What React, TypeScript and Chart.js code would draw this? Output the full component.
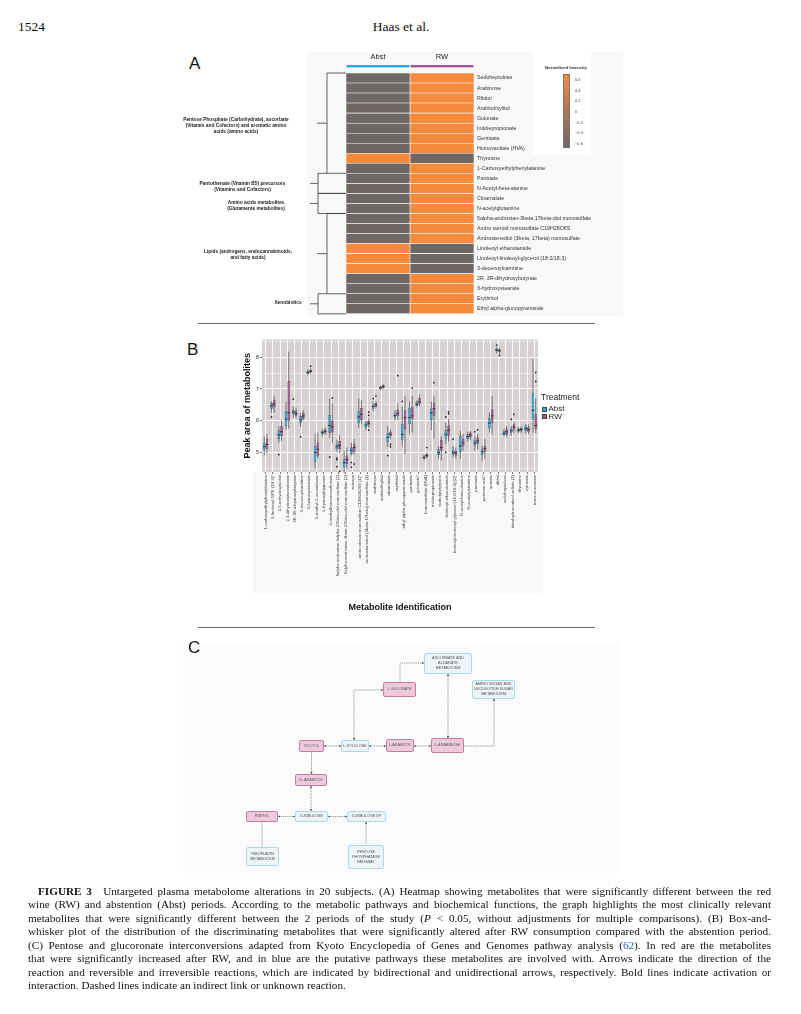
import React, { useEffect, useRef } from 'react';
import { Chart, registerables } from 'chart.js';

Chart.register(...registerables);

// ---------------- Panel A data ----------------
const heatmapColumns = ['Abst', 'RW'];
const heatmapMetabolites = [
  'Sedoheptulose', 'Arabinose', 'Ribitol', 'Arabitol/xylitol', 'Gulonate', 'Indolepropionate', 'Gentisate',
  'Homovanilate (HVA)', 'Thyroxine', '1-Carboxyethylphenylalanine', 'Pantoate', 'N-Acetyl-beta-alanine',
  'Citramalate', 'N-acetylglutamine', '5alpha-androstan-3beta,17beta-diol monosulfate',
  'Andro steroid monosulfate C19H28O6S', 'Androstenediol (3beta, 17beta) monosulfate', 'Linoleoyl ethanolamide',
  'Linoleoyl-linoleoyl-glycerol (18:2/18:3)', '3-decenoylcarnitine', '2R, 3R-dihydroxybutyrate',
  '3-hydroxystearate', 'Erythritol', 'Ethyl alpha-glucopyranoside',
];
const abstIntensity = [-0.6, -0.6, -0.6, -0.6, -0.6, -0.6, -0.6, -0.6, 0.6, -0.6, -0.6, -0.6, -0.6, -0.6, -0.6, -0.6, -0.6, 0.6, 0.6, 0.6, -0.6, -0.6, -0.6, -0.6];
const rwIntensity = [0.6, 0.6, 0.6, 0.6, 0.6, 0.6, 0.6, 0.6, -0.6, 0.6, 0.6, 0.6, 0.6, 0.6, 0.6, 0.6, 0.6, -0.6, -0.6, -0.6, 0.6, 0.6, 0.6, 0.6];
const intensityTickLabels = ['0.6', '0.4', '0.2', '0', '\u22120.2', '\u22120.4', '\u22120.6'];
const pathwayGroups = [
  { lines: ['Pentose Phosphate (Carbohydrate), ascorbate', '(Vitamin and Cofactors) and aromatic amino', 'acids (amino acids)'], first: 0, last: 9, kind: 'bracket' },
  { lines: ['Pantothenate (Vitamin B5) precursors', '(Vitamins and Cofactors)'], first: 10, last: 11, kind: 'box' },
  { lines: ['Amino acids metabolites', '(Glutamente metabolites)'], first: 12, last: 13, kind: 'box' },
  { lines: ['Lipids (androgens, endocannabinoids,', 'and fatty acids)'], first: 14, last: 21, kind: 'bracket' },
  { lines: ['Xenobiotics'], first: 22, last: 23, kind: 'box' },
];

// ---------------- Panel B data ----------------
const boxCategories = [
  '1-carboxyethylphenylalanine', '1-linoleoyl-GPE (18:2)*', '1,5-anhydroglucitol', '2,3-dihydroxyisovalerate',
  '2R,3R-dihydroxybutyrate', '3-decenoylcarnitine', '3-hydroxystearate', '3-methyl-2-oxovalerate',
  '4-hydroxyhippurate', '4-methylbenzenesulfonate', '5alpha-androstan-3alpha,17beta-diol monosulfate (2)',
  '5alpha-androstan-3beta,17beta-diol monosulfate (2)', 'acisoga', 'andro steroid monosulfate C19H28O6S (1)*',
  'androstenediol (3beta,17beta) monosulfate (1)', 'arabinose', 'arabitol/xylitol', 'citramalate', 'erythritol',
  'ethyl alpha-glucopyranoside', 'gentisate', 'gulonate*', 'homovanillate (HVA)', 'indolepropionate',
  'isobutyrylglycine', 'linoleoyl ethanolamide', 'linoleoyl-linoleoyl-glycerol (18:2/18:3) [2]*',
  'N-acetyl-beta-alanine', 'N-acetylglutamine', 'pantoate', 'pentose acid*', 'quinate', 'ribitol',
  'sedoheptulose', 'tetrahydrocortisol sulfate (1)', 'thyroxine', 'xylonate', 'trans-urocanate',
];
const abstLow = [4.92, 6.25, 5.30, 5.72, 6.10, 5.80, 7.44, 4.48, 5.50, 5.45, 5.00, 4.35, 4.90, 5.78, 5.70, 6.30, 6.96, 5.17, 6.00, 5.20, 5.57, 6.42, 4.75, 5.70, 4.80, 5.25, 4.84, 4.80, 5.35, 5.05, 4.74, 5.62, 8.12, 5.50, 5.52, 5.60, 5.60, 5.62];
const abstQ1 = [5.08, 6.38, 5.42, 5.84, 6.20, 5.92, 7.48, 4.70, 5.57, 5.62, 5.10, 4.53, 4.95, 5.92, 5.78, 6.38, 7.00, 5.33, 6.09, 5.40, 5.89, 6.46, 4.80, 6.02, 4.92, 5.44, 4.92, 5.00, 5.42, 5.21, 4.92, 5.75, 8.19, 5.54, 5.60, 5.65, 5.68, 6.04];
const abstMedian = [5.18, 6.47, 5.55, 6.05, 6.27, 6.03, 7.52, 5.00, 5.62, 5.85, 5.18, 4.67, 5.07, 6.12, 5.86, 6.45, 7.04, 5.47, 6.16, 5.57, 6.10, 6.52, 4.84, 6.25, 5.00, 5.57, 5.00, 5.20, 5.50, 5.30, 5.02, 5.92, 8.23, 5.60, 5.68, 5.70, 5.75, 6.33];
const abstQ3 = [5.30, 6.56, 5.70, 6.30, 6.33, 6.15, 7.57, 5.20, 5.68, 6.18, 5.26, 4.79, 5.15, 6.30, 5.94, 6.51, 7.08, 5.60, 6.23, 5.89, 6.41, 6.59, 4.88, 6.37, 5.10, 5.70, 5.08, 5.52, 5.57, 5.40, 5.10, 6.09, 8.27, 5.68, 5.75, 5.75, 5.85, 6.88];
const abstHigh = [5.50, 6.62, 5.82, 6.60, 6.45, 6.25, 7.62, 5.57, 5.75, 6.70, 5.40, 5.05, 5.30, 6.70, 6.00, 6.60, 7.10, 5.83, 6.33, 6.45, 6.60, 6.65, 4.92, 6.60, 5.20, 5.94, 5.20, 5.68, 5.65, 5.52, 5.21, 6.25, 8.32, 5.73, 5.83, 5.80, 5.90, 7.94];
const rwLow = [4.98, 6.25, 5.35, 5.75, 6.08, 6.00, 7.48, 4.82, 5.55, 5.30, 4.98, 4.48, 4.92, 5.88, 5.78, 6.38, 7.00, 5.42, 6.02, 4.95, 5.62, 6.45, 4.80, 5.42, 4.74, 5.35, 4.80, 5.05, 5.38, 5.10, 4.80, 5.57, 8.10, 5.47, 5.62, 5.62, 5.58, 5.60];
const rwQ1 = [5.10, 6.42, 5.52, 6.00, 6.15, 6.06, 7.52, 4.88, 5.60, 5.63, 5.10, 4.63, 5.00, 6.02, 5.85, 6.44, 7.03, 5.50, 6.15, 5.73, 6.06, 6.51, 4.85, 6.15, 5.05, 5.52, 4.90, 5.20, 5.47, 5.26, 5.02, 5.92, 8.18, 5.54, 5.71, 5.67, 5.65, 5.73];
const rwMedian = [5.25, 6.52, 5.65, 6.25, 6.22, 6.15, 7.56, 5.10, 5.66, 5.80, 5.22, 4.77, 5.15, 6.20, 5.92, 6.50, 7.08, 5.57, 6.23, 6.10, 6.15, 6.60, 4.90, 6.38, 5.15, 5.70, 4.98, 5.30, 5.55, 5.36, 5.12, 6.15, 8.21, 5.65, 5.80, 5.72, 5.72, 5.85];
const rwQ3 = [5.42, 6.66, 5.83, 7.25, 6.32, 6.25, 7.60, 5.31, 5.73, 6.00, 5.36, 4.90, 5.26, 6.40, 5.99, 6.56, 7.13, 5.65, 6.35, 6.33, 6.44, 6.72, 4.95, 6.56, 5.40, 5.85, 5.05, 5.42, 5.63, 5.47, 5.21, 6.35, 8.25, 5.75, 5.89, 5.78, 5.81, 6.20];
const rwHigh = [5.58, 6.78, 6.00, 8.18, 6.42, 6.33, 7.65, 5.60, 5.78, 6.55, 5.55, 5.15, 5.42, 6.65, 6.07, 6.62, 7.16, 5.73, 6.55, 6.78, 6.78, 6.82, 5.00, 6.78, 5.52, 6.05, 5.15, 5.58, 5.68, 5.58, 5.42, 6.78, 8.30, 5.83, 5.96, 5.82, 5.88, 6.70];
const abstOutliers = [[], [6.12], [4.93], [], [6.68], [5.49], [], [], [], [4.85], [4.82, 4.77, 4.55], [], [4.68, 4.53], [], [], [6.70], [], [4.90], [], [6.61], [], [], [], [], [], [6.12, 5.00], [5.42], [], [], [5.65], [], [], [8.39], [], [6.04], [], [], []];
const rwOutliers = [[], [], [], [], [], [], [7.72], [], [], [6.72], [4.40], [], [4.63], [], [5.70, 6.17, 6.27], [6.78], [], [5.25, 5.18], [7.42], [], [7.03], [], [5.15], [7.20], [], [6.22, 6.28], [], [], [], [5.71], [], [], [8.06], [], [6.20], [], [], [7.52, 7.24]];
const yGridValues = [4.5, 5, 5.5, 6, 6.5, 7, 7.5, 8, 8.5];
const treatments = ['Abst', 'RW'];

// ---------------- Panel C data ----------------
const pathwayNodes = [
  { id: 'gul', lines: ['L-GULONATE'], kind: 'pink', x: 383, y: 682, w: 33, h: 15 },
  { id: 'asc', lines: ['ASCORBATE AND', 'ALDARATE', 'METABOLISM'], kind: 'blue', x: 424, y: 653, w: 48, h: 21 },
  { id: 'ami', lines: ['AMINO SUGAR AND', 'NUCLEOTIDE SUGAR', 'METABOLISM'], kind: 'blue', x: 472, y: 680, w: 43, h: 19 },
  { id: 'xyl', lines: ['XYLITOL'], kind: 'pink', x: 299, y: 740, w: 25, h: 12 },
  { id: 'lxu', lines: ['L-XYLULOSE'], kind: 'blue', x: 341, y: 740, w: 28, h: 12 },
  { id: 'lab', lines: ['L-ARABITOL'], kind: 'pink', x: 386, y: 739, w: 28, h: 13 },
  { id: 'lan', lines: ['L-ARABINOSE'], kind: 'pink', x: 431, y: 738, w: 33, h: 15 },
  { id: 'dab', lines: ['D- ARABITOL'], kind: 'pink', x: 295, y: 774, w: 32, h: 12 },
  { id: 'rib', lines: ['RIBITOL'], kind: 'pink', x: 246, y: 811, w: 32, h: 11 },
  { id: 'dru', lines: ['D-RIBULOSE'], kind: 'blue', x: 295, y: 811, w: 33, h: 11 },
  { id: 'd5p', lines: ['D-RIBULOSE 5P'], kind: 'blue', x: 347, y: 811, w: 39, h: 11 },
  { id: 'rfl', lines: ['RIBOFLAVIN', 'METABOLISM'], kind: 'blue', x: 246, y: 847, w: 33, h: 19 },
  { id: 'ppp', lines: ['PENTOSE', 'PHOSPHATASE', 'PATHWAY'], kind: 'blue', x: 348, y: 845, w: 36, h: 24 },
];
const pathwayEdges = [
  { pts: [[354, 740], [354, 690], [383, 690]], start: true, end: true },
  { pts: [[400, 682], [400, 663], [424, 663]], start: false, end: true },
  { pts: [[448, 674], [448, 738]], start: true, end: true },
  { pts: [[464, 746], [494, 746], [494, 699]], start: false, end: true },
  { pts: [[414, 746], [431, 746]], start: true, end: true },
  { pts: [[369, 746], [386, 746]], start: true, end: true },
  { pts: [[324, 746], [341, 746]], start: true, end: true },
  { pts: [[311.5, 752], [311.5, 774]], start: false, end: true },
  { pts: [[311, 786], [311, 811]], start: true, end: true },
  { pts: [[278, 816.5], [295, 816.5]], start: true, end: true },
  { pts: [[328, 816.5], [347, 816.5]], start: true, end: true },
  { pts: [[262, 822], [262, 847]], start: false, end: false },
  { pts: [[366, 822], [366, 845]], start: true, end: false },
];

const SANS = "'Liberation Sans', Arial, Helvetica, sans-serif";
const SERIF = "'Liberation Serif', 'Times New Roman', Times, serif";
const ABST_COLOR = '#2aa9df';
const RW_COLOR = '#a2568f';
const LOW_RGB = [111, 102, 102];
const HIGH_RGB = [245, 138, 61];

function intensityColor(v: number): string {
  const t = Math.max(0, Math.min(1, (v + 0.6) / 1.2));
  const c = LOW_RGB.map((l, i) => Math.round(l + (HIGH_RGB[i] - l) * t));
  return `rgb(${c[0]},${c[1]},${c[2]})`;
}

function HeatmapPanel() {
  const ref = useRef<HTMLCanvasElement | null>(null);
  useEffect(() => {
    if (!ref.current) return;
    const decor = {
      id: 'heatDecor',
      afterDraw(chart: any) {
        const ctx = chart.ctx;
        const xs = chart.scales.x;
        const ys = chart.scales.y;
        const ca = chart.chartArea;
        ctx.save();
        const colCols = [ABST_COLOR, RW_COLOR];
        heatmapColumns.forEach((_, i) => {
          const x0 = xs.getPixelForValue(i) + 0.6;
          const x1 = xs.getPixelForValue(i + 1) - 0.6;
          ctx.fillStyle = colCols[i];
          ctx.fillRect(x0, ca.top - 8, x1 - x0, 2.4);
        });
        const pitch = ys.getPixelForValue(1) - ys.getPixelForValue(0);
        const rowTop = (r: number) => ys.getPixelForValue(r) - pitch / 2;
        ctx.strokeStyle = '#3d3d3d';
        ctx.lineWidth = 0.8;
        const xIn = ca.left - 19;
        const xBox = ca.left - 28;
        pathwayGroups.forEach((g) => {
          const t = rowTop(g.first);
          const b = rowTop(g.last + 1);
          const m = (t + b) / 2;
          ctx.beginPath();
          if (g.kind === 'bracket') {
            ctx.moveTo(ca.left, t);
            ctx.lineTo(xIn, t);
            ctx.lineTo(xIn, b);
            ctx.moveTo(xIn, m);
            ctx.lineTo(xIn - 10, m);
          } else {
            ctx.moveTo(ca.left, t);
            ctx.lineTo(xBox, t);
            ctx.lineTo(xBox, b);
            ctx.lineTo(ca.left, b);
            ctx.moveTo(xBox, m);
            ctx.lineTo(xBox - 8, m);
          }
          ctx.stroke();
        });
        ctx.restore();
      },
    };
    const chart = new Chart(ref.current, {
      type: 'bar',
      data: {
        labels: heatmapMetabolites,
        datasets: [
          { label: heatmapColumns[0], data: abstIntensity.map(() => 1), backgroundColor: abstIntensity.map(intensityColor) },
          { label: heatmapColumns[1], data: rwIntensity.map(() => 1), backgroundColor: rwIntensity.map(intensityColor) },
        ],
      },
      options: {
        indexAxis: 'y',
        responsive: false,
        animation: false,
        devicePixelRatio: 1,
        layout: { padding: { left: 46, bottom: 6, top: 0, right: 0 } },
        plugins: { legend: { display: false }, tooltip: { enabled: false } },
        datasets: { bar: { barPercentage: 1, categoryPercentage: 1, borderColor: '#ffffff', borderWidth: 0.6, borderSkipped: false } },
        scales: {
          x: {
            type: 'linear', stacked: true, position: 'top', min: 0, max: 2,
            grid: { display: false, drawTicks: false }, border: { display: false },
            afterBuildTicks: (s: any) => { s.ticks = heatmapColumns.map((_, i) => ({ value: i + 0.5 })); },
            ticks: { callback: (_v: any, i: number) => heatmapColumns[i], font: { size: 7.5, family: SANS }, color: '#222', padding: 12 },
            afterFit: (s: any) => { s.height = 28; },
          },
          y: {
            stacked: true, position: 'right',
            grid: { display: false, drawTicks: false }, border: { display: false },
            ticks: { font: { size: 5.3, family: SANS }, color: '#333', padding: 3, autoSkip: false },
            afterFit: (s: any) => { s.width = 156; },
          },
        },
      } as any,
      plugins: [decor],
    });
    return () => chart.destroy();
  }, []);
  return <canvas ref={ref} width={330} height={275} style={{ position: 'absolute', left: 300, top: 45, width: 330, height: 275 }} />;
}

function BoxplotPanel() {
  const ref = useRef<HTMLCanvasElement | null>(null);
  useEffect(() => {
    if (!ref.current) return;
    const stats = [
      { low: abstLow, med: abstMedian, high: abstHigh, out: abstOutliers },
      { low: rwLow, med: rwMedian, high: rwHigh, out: rwOutliers },
    ];
    const panelBg = {
      id: 'panelBg',
      beforeDraw(chart: any) {
        const { ctx, chartArea: ca } = chart;
        ctx.save();
        ctx.fillStyle = '#d6d0d0';
        ctx.fillRect(ca.left, ca.top, ca.right - ca.left, ca.bottom - ca.top);
        ctx.restore();
      },
    };
    const whiskers = {
      id: 'whiskers',
      beforeDatasetsDraw(chart: any) {
        const ctx = chart.ctx;
        const ys = chart.scales.y;
        ctx.save();
        ctx.strokeStyle = '#4a4a4a';
        ctx.lineWidth = 0.7;
        stats.forEach((st, d) => {
          const meta = chart.getDatasetMeta(d);
          meta.data.forEach((el: any, i: number) => {
            ctx.beginPath();
            ctx.moveTo(el.x, ys.getPixelForValue(st.low[i]));
            ctx.lineTo(el.x, ys.getPixelForValue(st.high[i]));
            ctx.stroke();
          });
        });
        ctx.restore();
      },
      afterDatasetsDraw(chart: any) {
        const ctx = chart.ctx;
        const ys = chart.scales.y;
        ctx.save();
        stats.forEach((st, d) => {
          const meta = chart.getDatasetMeta(d);
          meta.data.forEach((el: any, i: number) => {
            const y = ys.getPixelForValue(st.med[i]);
            ctx.strokeStyle = '#262626';
            ctx.lineWidth = 0.9;
            ctx.beginPath();
            ctx.moveTo(el.x - el.width / 2, y);
            ctx.lineTo(el.x + el.width / 2, y);
            ctx.stroke();
            ctx.fillStyle = '#1a1a1a';
            st.out[i].forEach((v: number) => {
              ctx.beginPath();
              ctx.arc(el.x, ys.getPixelForValue(v), 0.85, 0, Math.PI * 2);
              ctx.fill();
            });
          });
        });
        ctx.restore();
      },
    };
    const chart = new Chart(ref.current, {
      type: 'bar',
      data: {
        labels: boxCategories,
        datasets: [
          { label: treatments[0], data: abstQ1.map((q, i) => [q, abstQ3[i]]), backgroundColor: ABST_COLOR, borderColor: '#3c3c3c', borderWidth: 0.5, borderSkipped: false },
          { label: treatments[1], data: rwQ1.map((q, i) => [q, rwQ3[i]]), backgroundColor: RW_COLOR, borderColor: '#3c3c3c', borderWidth: 0.5, borderSkipped: false },
        ],
      },
      options: {
        responsive: false,
        animation: false,
        devicePixelRatio: 1,
        layout: { padding: { top: 3, right: 10, left: 0, bottom: 0 } },
        plugins: { legend: { display: false }, tooltip: { enabled: false } },
        datasets: { bar: { categoryPercentage: 0.74, barPercentage: 1 } },
        scales: {
          x: {
            grid: { color: '#ffffff', lineWidth: 0.9, offset: false, drawTicks: true, tickLength: 2, tickColor: '#666' },
            border: { display: false },
            ticks: { autoSkip: false, minRotation: 90, maxRotation: 90, font: { size: 4.3, family: SANS }, color: '#444', padding: 1 },
            title: { display: true, text: 'Metabolite Identification', font: { size: 9, weight: 'bold', family: SANS }, color: '#111', padding: { top: 4, bottom: 4 } },
            afterFit: (s: any) => { s.height = 145; },
          },
          y: {
            min: 4.38, max: 8.56,
            afterBuildTicks: (s: any) => { s.ticks = yGridValues.map((v) => ({ value: v })); },
            grid: {
              color: '#ffffff',
              lineWidth: (c: any) => (Number.isInteger(c.tick && c.tick.value) ? 1.1 : 0.5),
              tickLength: 2,
              tickColor: (c: any) => (Number.isInteger(c.tick && c.tick.value) ? '#666' : 'rgba(0,0,0,0)'),
            },
            border: { display: false },
            ticks: { callback: (v: any) => (Number.isInteger(v) ? String(v) : ''), font: { size: 6, family: SANS }, color: '#444', padding: 1 },
            title: { display: true, text: 'Peak area of metabolites', font: { size: 9, weight: 'bold', family: SANS }, color: '#111' },
            afterFit: (s: any) => { s.width = 24; },
          },
        },
      } as any,
      plugins: [panelBg, whiskers],
    });
    return () => chart.destroy();
  }, []);
  return <canvas ref={ref} width={310} height={282} style={{ position: 'absolute', left: 238, top: 335, width: 310, height: 282 }} />;
}

function PathwayPanel() {
  return (
    <>
      <div style={{ position: 'absolute', left: 183, top: 644, width: 436, height: 229, background: '#fbfbfb' }} />
      <svg width={801} height={1014} style={{ position: 'absolute', left: 0, top: 0 }}>
        <defs>
          <marker id="arrC" viewBox="0 0 6 6" refX="5.5" refY="3" markerWidth="2.6" markerHeight="2.6" markerUnits="userSpaceOnUse" orient="auto-start-reverse">
            <path d="M0,0 L6,3 L0,6 z" fill="#555" />
          </marker>
        </defs>
        {pathwayEdges.map((e, i) => (
          <polyline
            key={i}
            points={e.pts.map((p) => p.join(',')).join(' ')}
            fill="none"
            stroke="#777"
            strokeWidth={0.7}
            strokeDasharray="1.4 0.9"
            markerStart={e.start ? 'url(#arrC)' : undefined}
            markerEnd={e.end ? 'url(#arrC)' : undefined}
          />
        ))}
      </svg>
      {pathwayNodes.map((n) => (
        <div
          key={n.id}
          style={{
            position: 'absolute', left: n.x, top: n.y, width: n.w, height: n.h, boxSizing: 'border-box',
            background: n.kind === 'pink' ? '#edcadb' : '#eef3f6',
            border: `0.8px solid ${n.kind === 'pink' ? '#c67ba1' : '#a6daee'}`,
            borderRadius: 2, display: 'flex', flexDirection: 'column', alignItems: 'center', justifyContent: 'center',
            fontFamily: SANS, fontSize: 3.8, lineHeight: '5px', color: '#555', textAlign: 'center', whiteSpace: 'nowrap',
          }}
        >
          {n.lines.map((l, j) => <div key={j}>{l}</div>)}
        </div>
      ))}
    </>
  );
}

const groupLabelPos = [
  { cx: 236, top: 117 },
  { cx: 242.5, top: 180.5 },
  { cx: 256, top: 200.3 },
  { cx: 248, top: 249 },
  { cx: 288, top: 300 },
];

const captionLines: React.ReactNode[] = [
  <><b>FIGURE 3</b>{'\u2003'}Untargeted plasma metabolome alterations in 20 subjects. (A) Heatmap showing metabolites that were significantly different between the red</>,
  <>wine (RW) and abstention (Abst) periods. According to the metabolic pathways and biochemical functions, the graph highlights the most clinically relevant</>,
  <>metabolites that were significantly different between the 2 periods of the study (<i>P</i> &lt; 0.05, without adjustments for multiple comparisons). (B) Box-and-</>,
  <>whisker plot of the distribution of the discriminating metabolites that were significantly altered after RW consumption compared with the abstention period.</>,
  <>(C) Pentose and glucoronate interconversions adapted from Kyoto Encyclopedia of Genes and Genomes pathway analysis (<span style={{ color: '#1a5fd6' }}>62</span>). In red are the metabolites</>,
  <>that were significantly increased after RW, and in blue are the putative pathways these metabolites are involved with. Arrows indicate the direction of the</>,
  <>reaction and reversible and irreversible reactions, which are indicated by bidirectional and unidirectional arrows, respectively. Bold lines indicate activation or</>,
  <>interaction. Dashed lines indicate an indirect link or unknown reaction.</>,
];

export default function App() {
  useEffect(() => {
    document.body.style.margin = '0';
  }, []);
  const letter = (t: string, left: number, top: number) => (
    <div style={{ position: 'absolute', left, top, fontFamily: SANS, fontSize: 17, lineHeight: '17px', color: '#111' }}>{t}</div>
  );
  return (
    <div style={{ position: 'absolute', left: 0, top: 0, width: 801, height: 1014, overflow: 'hidden', background: '#fff' }}>
      <div style={{ position: 'absolute', left: 18, top: 19, fontFamily: SERIF, fontSize: 13.5, lineHeight: '16px', color: '#111' }}>1524</div>
      <div style={{ position: 'absolute', left: 301, width: 200, top: 19, textAlign: 'center', fontFamily: SERIF, fontSize: 13.5, lineHeight: '16px', color: '#111' }}>Haas et al.</div>

      {letter('A', 189, 55)}
      <div style={{ position: 'absolute', left: 307, top: 52, width: 316, height: 264, background: '#f8f8f8' }} />
      <div style={{ position: 'absolute', left: 533, top: 52, width: 58, height: 103, background: '#ffffff' }} />
      <HeatmapPanel />
      {pathwayGroups.map((g, i) => (
        <div key={i} style={{ position: 'absolute', left: groupLabelPos[i].cx - 70, width: 140, top: groupLabelPos[i].top, textAlign: 'center', fontFamily: SANS, fontWeight: 'bold', fontSize: 4.8, lineHeight: '6px', color: '#222', whiteSpace: 'nowrap' }}>
          {g.lines.map((l, j) => <div key={j}>{l}</div>)}
        </div>
      ))}
      <div style={{ position: 'absolute', left: 538, top: 65, width: 56, textAlign: 'center', fontFamily: SANS, fontWeight: 'bold', fontSize: 4.3, lineHeight: '6px', color: '#333' }}>Normalized Intensity</div>
      <div style={{ position: 'absolute', left: 563, top: 74, width: 7, height: 74, boxSizing: 'border-box', border: '0.6px solid #777', background: `linear-gradient(to bottom, ${intensityColor(0.6)}, ${intensityColor(0)}, ${intensityColor(-0.6)})` }} />
      {intensityTickLabels.map((t, i) => (
        <div key={t} style={{ position: 'absolute', left: 575, top: 77 + i * 10.67, fontFamily: SANS, fontSize: 4, lineHeight: '5px', color: '#444' }}>{t}</div>
      ))}
      <div style={{ position: 'absolute', left: 198, top: 322.5, width: 397, height: 1, background: '#666' }} />

      {letter('B', 187, 341)}
      <div style={{ position: 'absolute', left: 253, top: 472, width: 290, height: 121, background: '#f8f8f8' }} />
      <BoxplotPanel />
      <div style={{ position: 'absolute', left: 541, top: 392, fontFamily: SANS, fontSize: 8.5, lineHeight: '11px', color: '#222' }}>Treatment</div>
      {treatments.map((t, i) => (
        <React.Fragment key={t}>
          <div style={{ position: 'absolute', left: 541.5, top: 406.5 + i * 7.8, width: 5, height: 5.2, boxSizing: 'border-box', background: i === 0 ? ABST_COLOR : RW_COLOR, border: '0.5px solid #444' }} />
          <div style={{ position: 'absolute', left: 548.5, top: 404 + i * 7.8, fontFamily: SANS, fontSize: 8, lineHeight: '10px', color: '#222' }}>{t}</div>
        </React.Fragment>
      ))}
      <div style={{ position: 'absolute', left: 198, top: 626.5, width: 397, height: 1, background: '#666' }} />

      <PathwayPanel />
      {letter('C', 188, 639)}

      {captionLines.map((line, i) => (
        <div key={i} style={{
          position: 'absolute', left: i === 0 ? 38 : 28, width: i === 0 ? 733 : 743, top: 884 + i * 13.43,
          fontFamily: SERIF, fontSize: 11.2, lineHeight: '14px', color: '#111',
          textAlign: i === captionLines.length - 1 ? 'left' : 'justify', textAlignLast: i === captionLines.length - 1 ? 'left' : 'justify',
        } as any}>
          {line}
        </div>
      ))}
    </div>
  );
}
